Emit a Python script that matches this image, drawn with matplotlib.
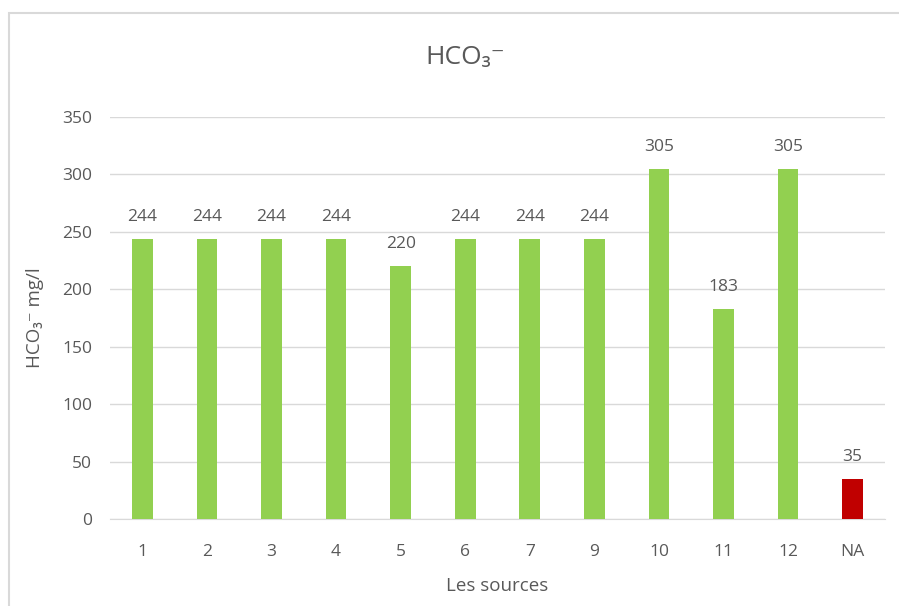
import matplotlib.pyplot as plt
import matplotlib.patches as patches

sources = ['1', '2', '3', '4', '5', '6', '7', '9', '10', '11', '12', 'NA']
hco3 = [244, 244, 244, 244, 220, 244, 244, 244, 305, 183, 305, 35]
colors = ['#92D050'] * 11 + ['#C00000']

plt.rcParams['font.family'] = ['Open Sans', 'DejaVu Sans']
gray = '#595959'

fig = plt.figure(figsize=(8.99, 6.06), dpi=100)
ax = fig.add_axes([0.1224, 0.1436, 0.862, 0.6634])

# cadre du graphique
fig.patches.append(patches.Rectangle((9 / 899, -0.05), 1.2, 1 - 13 / 606 + 0.05,
                                     transform=fig.transFigure, fill=False,
                                     edgecolor='#D9D9D9', linewidth=1.5))

x = range(len(sources))
bars = ax.bar(x, hco3, width=0.32, color=colors, zorder=3)
for xi, v in zip(x, hco3):
    ax.text(xi, v + 12, str(v), ha='center', va='bottom', fontsize=12.5, color=gray)

ax.set_xlim(-0.5, len(sources) - 0.5)
ax.set_ylim(0, 350)
ax.set_yticks(range(0, 351, 50))
ax.set_xticks(list(x))
ax.set_xticklabels(sources)
ax.tick_params(axis='both', length=0, labelsize=12.5, labelcolor=gray)
ax.tick_params(axis='x', pad=18)
ax.tick_params(axis='y', pad=13)
ax.grid(axis='y', color='#D9D9D9', linewidth=1, zorder=0)
for s in ['top', 'right', 'left']:
    ax.spines[s].set_visible(False)
ax.spines['bottom'].set_color('#D9D9D9')

ax.set_xlabel('Les sources', fontsize=13.5, color=gray, labelpad=12)
ax.set_ylabel('HCO₃⁻ mg/l', fontsize=13.5, color=gray, labelpad=13)
fig.text(0.517, 0.905, 'HCO₃⁻', ha='center', va='center', fontsize=19, color=gray)

fig.savefig('out.png', dpi=100)
